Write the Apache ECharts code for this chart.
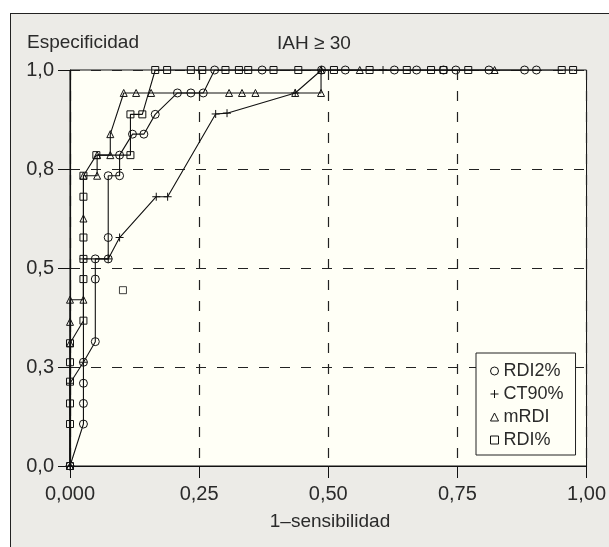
<!DOCTYPE html>
<html><head><meta charset="utf-8">
<script src="https://cdn.jsdelivr.net/npm/echarts@6/dist/echarts.min.js"></script>
<style>
html,body{margin:0;padding:0;background:#fff;}
#wrap{position:relative;width:609px;height:547px;overflow:hidden;background:#fff;}
#frame{position:absolute;left:10px;top:13px;width:700px;height:700px;background:#ecebe7;border:1px solid #222;}
#c{position:absolute;left:0;top:0;width:609px;height:547px;}
</style>
</head><body>
<div id="wrap"><div id="frame"></div><div id="c"></div></div>
<script>
const xTickLabels = ['0,000', '0,25', '0,50', '0,75', '1,00'];
const yTickLabels = ['0,0', '0,3', '0,5', '0,8', '1,0'];
const seriesNames = ['RDI2%', 'CT90%', 'mRDI', 'RDI%'];

// [1-sensibilidad, especificidad]
const rdi2 = [
  [0,0],[0.026,0.106],[0.026,0.158],[0.026,0.209],[0.026,0.262],
  [0.049,0.314],[0.049,0.472],[0.049,0.523],[0.074,0.523],[0.074,0.577],
  [0.074,0.733],[0.096,0.733],[0.096,0.785],[0.121,0.838],[0.143,0.838],
  [0.165,0.888],[0.208,0.942],[0.234,0.942],[0.258,0.942],[0.28,1],
  [0.372,1],[0.487,1],[0.533,1],[0.628,1],[0.671,1],[0.723,1],[0.747,1],
  [0.811,1],[0.88,1],[0.903,1]
];
const ct90 = [
  [0,0],[0,0.209],[0.026,0.262],[0.026,0.523],[0.074,0.523],[0.096,0.577],
  [0.167,0.68],[0.189,0.68],[0.282,0.889],[0.304,0.891],[0.436,0.942],
  [0.487,1],[0.606,1]
];
const mrdi = [
  [0,0],[0,0.31],[0,0.364],[0,0.42],[0.026,0.42],[0.026,0.625],[0.026,0.733],
  [0.0525,0.733],[0.0525,0.785],[0.078,0.785],[0.078,0.838],[0.104,0.942],
  [0.128,0.942],[0.157,0.942],[0.308,0.942],[0.333,0.942],[0.359,0.942],
  [0.436,0.942],[0.486,0.942],[0.486,1],[0.561,1],[0.822,1]
];
const rdiPct = [
  [0,0],[0,0.106],[0,0.158],[0,0.213],[0,0.262],[0,0.31],[0.026,0.367],
  [0.026,0.472],[0.026,0.523],[0.026,0.577],[0.026,0.68],[0.026,0.733],
  [0.051,0.785],[0.117,0.785],[0.117,0.888],[0.14,0.888],[0.165,1],
  [0.188,1],[0.234,1],[0.256,1],[0.301,1],[0.327,1],[0.345,1],[0.394,1],
  [0.442,1],[0.511,1],[0.58,1],[0.652,1],[0.699,1],[0.723,1],[0.771,1],
  [0.952,1],[0.974,1]
];
const rdiPctOutlier = [[0.1025,0.444]];

const INK = '#111';
const TXT = '#2a2a2a';
const FONT = 'Liberation Sans, Arial, sans-serif';
const symbols = {
  'RDI2%': 'circle',
  'CT90%': 'path://M5,0L5,10M0,5L10,5',
  'mRDI': 'triangle',
  'RDI%': 'rect'
};
const sizes = {'RDI2%': 8, 'CT90%': 8, 'mRDI': 7, 'RDI%': 7};
const dataByName = {'RDI2%': rdi2, 'CT90%': ct90, 'mRDI': mrdi, 'RDI%': rdiPct};

function lineSeries(name) {
  return {
    name: name, type: 'line', data: dataByName[name],
    symbol: symbols[name], symbolSize: sizes[name], showAllSymbol: true,
    lineStyle: {color: INK, width: 1.1},
    itemStyle: {color: 'rgba(0,0,0,0)', borderColor: INK, borderWidth: 1},
    emphasis: {disabled: true}, z: 3
  };
}

const chart = echarts.init(document.getElementById('c'), null, {renderer: 'canvas'});
chart.setOption({
  animation: false,
  backgroundColor: 'transparent',
  textStyle: {fontFamily: FONT},
  title: [
    {text: 'Especificidad', left: 27, top: 33, padding: 0,
     textStyle: {fontSize: 19, fontWeight: 'normal', color: TXT, fontFamily: FONT}},
    {text: 'IAH ≥ 30', left: 277, top: 34, padding: 0,
     textStyle: {fontSize: 19, fontWeight: 'normal', color: TXT, fontFamily: FONT}},
    {text: '1–sensibilidad', left: 330, textAlign: 'center', top: 512, padding: 0,
     textStyle: {fontSize: 19, fontWeight: 'normal', color: TXT, fontFamily: FONT}}
  ],
  grid: {left: 70, top: 70, right: 19, bottom: 81, show: true,
         backgroundColor: '#fffff6', borderColor: INK, borderWidth: 1},
  xAxis: {
    type: 'value', min: 0, max: 1, interval: 0.25,
    axisLine: {lineStyle: {color: INK, width: 1.2}},
    axisTick: {length: 12, lineStyle: {color: INK}},
    axisLabel: {margin: 18, fontSize: 20, color: TXT, fontFamily: FONT,
      formatter: (v) => xTickLabels[Math.round(v / 0.25)]},
    splitLine: {show: true, lineStyle: {color: '#222', width: 1.2, type: [10, 11]}}
  },
  yAxis: {
    type: 'value', min: 0, max: 1, interval: 0.25,
    axisLine: {lineStyle: {color: INK, width: 1.2}},
    axisTick: {length: 12, lineStyle: {color: INK}},
    axisLabel: {margin: 16, fontSize: 20, color: TXT, fontFamily: FONT,
      formatter: (v) => yTickLabels[Math.round(v / 0.25)]},
    splitLine: {show: true, lineStyle: {color: '#222', width: 1.2, type: [10, 11]}}
  },
  legend: {
    data: seriesNames.map(n => ({name: n, icon: symbols[n]})),
    orient: 'vertical', left: 476, top: 353,
    itemWidth: 8, itemHeight: 8, itemGap: 5,
    padding: [9, 12, 6, 14],
    backgroundColor: '#fffff6', borderColor: '#222', borderWidth: 1,
    textStyle: {fontSize: 18, color: TXT, fontFamily: FONT, lineHeight: 18},
    itemStyle: {color: 'rgba(0,0,0,0)', borderColor: INK, borderWidth: 1},
    selectedMode: false
  },
  series: seriesNames.map(lineSeries).concat([{
    name: 'RDI% aislado', type: 'scatter', data: rdiPctOutlier,
    symbol: 'rect', symbolSize: 7,
    itemStyle: {color: 'rgba(0,0,0,0)', borderColor: INK, borderWidth: 1},
    emphasis: {disabled: true}, z: 3
  }])
});
</script>
</body></html>
